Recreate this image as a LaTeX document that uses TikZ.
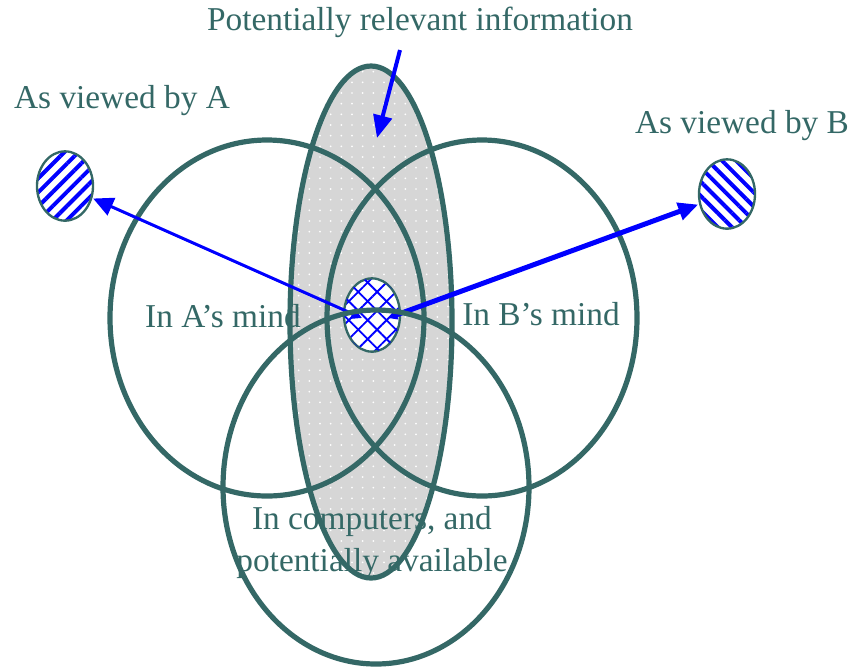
\documentclass[tikz,border=0pt]{standalone}
\usepackage{fontspec}
\setmainfont{Liberation Serif}
\usetikzlibrary{arrows.meta,shapes.geometric,patterns.meta,positioning}
\definecolor{ringcol}{RGB}{52,104,102}
\definecolor{infogray}{RGB}{214,214,214}

\begin{document}
\begin{tikzpicture}[x=0.75pt,y=-0.75pt,>=Triangle,
  ring/.style={draw=ringcol,line width=3.9pt},
  viewpt/.style={ellipse,draw=ringcol,line width=1.75pt,inner sep=0pt,
    minimum width=42pt,minimum height=52pt,preaction={fill=white}},
  lbl/.style={text=ringcol,font=\fontsize{25}{31.5}\selectfont,align=center},
  link/.style={blue,<->,line width=#1}]
  \useasboundingbox (0,0) rectangle (855,669);
  % relevant information strip
  \fill[infogray] (371,322) ellipse [x radius=81,y radius=256];
  \fill[pattern={Dots[distance=8pt,radius=0.7pt]},pattern color=white]
    (371,322) ellipse [x radius=81,y radius=256];
  % labels
  \node[lbl] (title) at (420,22) {Potentially relevant information};
  \node[lbl] (labA) at (122,101) {As viewed by A};
  \node[lbl] (labB) at (742,126) {As viewed by B};
  \node[lbl] (mindA) at (223,316) {In A’s mind};
  \node[lbl] (mindB) at (541,314) {In B’s mind};
  \node[lbl] (comp) at (372,543) {In computers, and\\potentially available};
  % circles
  \draw[ring] (371,322) ellipse [x radius=81,y radius=256];
  \draw[ring] (267,318) ellipse [x radius=157,y radius=178];
  \draw[ring] (482,318) ellipse [x radius=155,y radius=178];
  % viewpoints
  \node[viewpt,pattern={Lines[angle=45,distance=7.5pt,line width=3pt]},pattern color=blue]
    (viewA) at (65,186) {};
  \node[viewpt,pattern={Lines[angle=-45,distance=7.5pt,line width=3pt]},pattern color=blue]
    (viewB) at (727,194) {};
  \node[viewpt,minimum height=55pt,
    pattern={Lines[angle=45,distance=10pt,line width=1.4pt]},pattern color=blue,
    postaction={pattern={Lines[angle=-45,distance=10pt,line width=1.4pt]},pattern color=blue}]
    (shared) at (372,315) {};
  \coordinate (hubL) at (362,318);
  \coordinate (hubR) at (388,318);
  \coordinate (pin) at (377,138);
  \draw[link=2.25pt,{Triangle[length=8pt,width=8pt]}-{Triangle[length=15pt,width=14pt]}] (hubL) -- (viewA);
  \draw[link=3.75pt,{Triangle[length=7pt,width=7pt]}-{Triangle[length=15pt,width=13pt]}] (hubR) -- (viewB);
  \draw[blue,line width=3pt,-{Triangle[length=17pt,width=14pt]}] ([xshift=-15pt,yshift=-6pt]title.south) -- (pin);
  % lower circle on top
  \draw[ring] (376,487) ellipse [x radius=153,y radius=177];
\end{tikzpicture}
\end{document}
